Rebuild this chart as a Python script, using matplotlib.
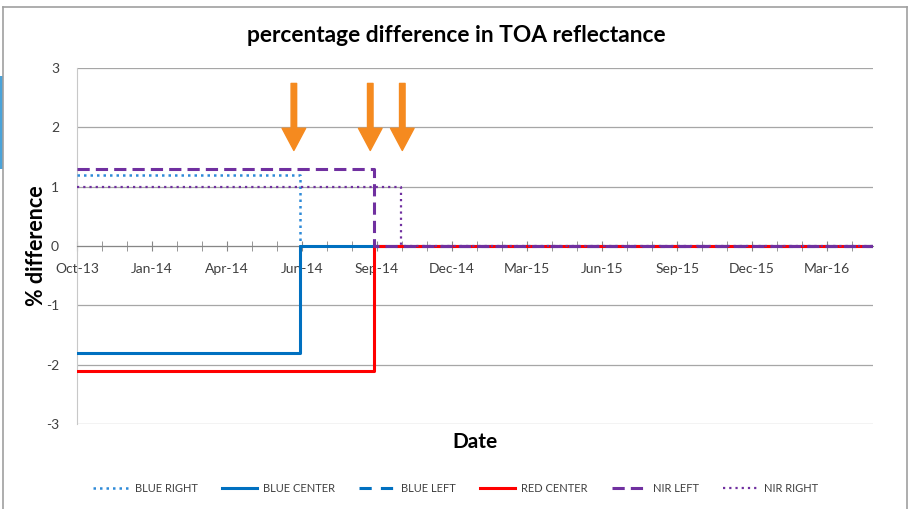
import matplotlib
matplotlib.use('Agg')
import matplotlib.pyplot as plt
from matplotlib.patches import Rectangle
from matplotlib.lines import Line2D

plt.rcParams['font.family'] = ['Lato', 'DejaVu Sans']
plt.rcParams['axes.unicode_minus'] = False

# x in days after Oct-13
month = 30.44
tick_labels = ['Oct-13', 'Jan-14', 'Apr-14', 'Jun-14', 'Sep-14', 'Dec-14',
               'Mar-15', 'Jun-15', 'Sep-15', 'Dec-15', 'Mar-16']
x_end = 969

blue_right_x = [0, 271, x_end]
blue_right_y = [1.2, 0, 0]
blue_center_x = [0, 271, x_end]
blue_center_y = [-1.8, 0, 0]
blue_left_x = [362, x_end]
blue_left_y = [0, 0]
red_center_x = [0, 362, x_end]
red_center_y = [-2.1, 0, 0]
nir_left_x = [0, 362, x_end]
nir_left_y = [1.3, 0, 0]
nir_right_x = [0, 394, x_end]
nir_right_y = [1.0, 0, 0]

arrow_x = [264, 357, 396]
arrow_top = 2.74
arrow_tip = 1.61

fig = plt.figure(figsize=(9.12, 5.09), dpi=100)
ax = fig.add_axes([77 / 912, 1 - 424 / 509, 796 / 912, 356 / 509])

txt = '#404040'
ax.set_xlim(0, x_end)
ax.set_ylim(-3, 3)
ax.set_yticks(range(-3, 4))
ax.grid(axis='y', color='#A6A6A6', lw=0.9)
ax.set_axisbelow(True)

for s in ['top', 'right']:
    ax.spines[s].set_visible(False)
ax.spines['left'].set_color('#C8C8C8')
ax.spines['bottom'].set_position(('data', 0))
ax.spines['bottom'].set_color('#868686')

ax.set_xticks([k * 3 * month for k in range(len(tick_labels))])
ax.set_xticklabels(tick_labels)
ax.set_xticks([k * month for k in range(32)], minor=True)
ax.tick_params(axis='x', which='both', direction='inout', length=7, color='#868686',
               labelsize=10, labelcolor=txt, pad=9)
ax.tick_params(axis='y', length=0, labelsize=10, labelcolor=txt, pad=13)

ax.plot(blue_right_x, blue_right_y, drawstyle='steps-post', color='#2E8AD8', lw=1.8,
        ls=(0, (1, 1.6)), label='BLUE RIGHT', zorder=3)
ax.plot(blue_center_x, blue_center_y, drawstyle='steps-post', color='#0070C0', lw=2.2,
        label='BLUE CENTER', zorder=3)
ax.plot(blue_left_x, blue_left_y, drawstyle='steps-post', color='#0070C0', lw=2.2,
        ls=(0, (4, 3)), label='BLUE LEFT', zorder=3)
ax.plot(red_center_x, red_center_y, drawstyle='steps-post', color='#FF0000', lw=2.2,
        label='RED CENTER', zorder=3)
ax.plot(nir_left_x, nir_left_y, drawstyle='steps-post', color='#7030A0', lw=2.2,
        ls=(0, (4, 2)), label='NIR LEFT', zorder=3)
ax.plot(nir_right_x, nir_right_y, drawstyle='steps-post', color='#7030A0', lw=1.6,
        ls=(0, (1, 1.8)), label='NIR RIGHT', zorder=3)

for xa in arrow_x:
    ax.annotate('', xy=(xa, arrow_tip), xytext=(xa, arrow_top),
                arrowprops=dict(arrowstyle='simple,head_length=0.8,head_width=0.85,tail_width=0.2',
                                color='#F58A1F', shrinkA=0, shrinkB=0, mutation_scale=20))

ax.set_xlabel('Date', fontsize=15, fontweight='bold', labelpad=0)
ax.xaxis.set_label_coords(0.5, 1 - (432 - 68) / 356)
ax.set_ylabel('% difference', fontsize=15.5, fontweight='bold')
ax.yaxis.set_label_coords((47 - 77) / 796, 0.5)

fig.text(0.5, 1 - 35 / 509, 'percentage difference in TOA reflectance', ha='center', va='center',
         fontsize=16.4, fontweight='bold')

leg = fig.legend(loc='center', bbox_to_anchor=(0.5, 1 - 488 / 509), ncol=6, frameon=False,
                 fontsize=8, handlelength=3.2, handletextpad=0.5, columnspacing=2.2)
for t in leg.get_texts():
    t.set_color(txt)

# slide frame and side bar
fig.add_artist(Line2D([3 / 912, 3 / 912], [0, 1 - 7 / 509], transform=fig.transFigure, color='#A0A0A0', lw=1.2))
fig.add_artist(Line2D([3 / 912, 907 / 912], [1 - 7 / 509, 1 - 7 / 509], transform=fig.transFigure, color='#A0A0A0', lw=1.2))
fig.add_artist(Line2D([907 / 912, 907 / 912], [0, 1 - 7 / 509], transform=fig.transFigure, color='#A0A0A0', lw=1.2))
fig.add_artist(Rectangle((0, 1 - 169 / 509), 3 / 912, 93 / 509, transform=fig.transFigure,
                         color='#4BA3D9', lw=0))

fig.savefig('out.png', dpi=100)
